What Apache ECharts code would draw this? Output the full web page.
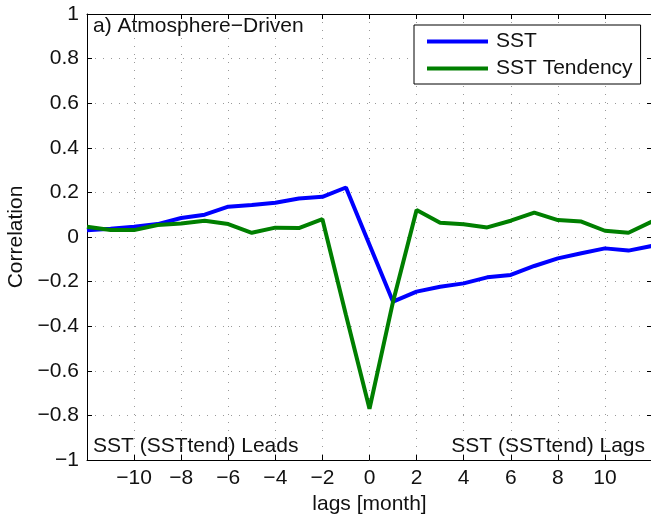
<!DOCTYPE html>
<html>
<head>
<meta charset="utf-8">
<script src="https://cdn.jsdelivr.net/npm/echarts@6/dist/echarts.min.js"></script>
<style>
  html, body { margin: 0; padding: 0; background: #fff; }
  #chart { width: 651px; height: 517px; }
</style>
</head>
<body>
<div id="chart"></div>
<script>
// Lag in months (negative: SST / SST tendency leads)
const lags = [-12, -11, -10, -9, -8, -7, -6, -5, -4, -3, -2, -1, 0, 1, 2, 3, 4, 5, 6, 7, 8, 9, 10, 11, 12];
// Lagged correlation with SST
const sst = [0.03, 0.037, 0.046, 0.058, 0.085, 0.10, 0.136, 0.143, 0.154, 0.173, 0.18, 0.222, -0.035, -0.29, -0.245, -0.223, -0.208, -0.181, -0.17, -0.13, -0.096, -0.073, -0.051, -0.061, -0.04];
// Lagged correlation with SST tendency
const sstTend = [0.046, 0.031, 0.031, 0.054, 0.061, 0.073, 0.058, 0.019, 0.042, 0.040, 0.080, -0.35, -0.77, -0.29, 0.121, 0.064, 0.057, 0.043, 0.073, 0.109, 0.076, 0.069, 0.028, 0.019, 0.069];
const seriesNames = ['SST', 'SST Tendency'];

const FONT = '"Liberation Sans", Arial, Helvetica, sans-serif';
const FS = 21;
const minus = v => String(v).replace('-', '\u2212');

const chart = echarts.init(document.getElementById('chart'), null, { renderer: 'canvas' });

const tickStyle = { show: true, inside: true, length: 5, lineStyle: { color: '#000', width: 1 } };
const gridLine = { show: true, lineStyle: { color: '#999', width: 1, type: [1, 7] } };
const frameLine = { show: true, onZero: false, lineStyle: { color: '#000', width: 1 } };

chart.setOption({
  animation: false,
  backgroundColor: '#fff',
  textStyle: { fontFamily: FONT },
  grid: { left: 87, right: -1, top: 14, bottom: 57, containLabel: false, outerBoundsMode: 'none' },
  legend: {
    data: seriesNames,
    orient: 'vertical',
    left: 414,
    top: 25,
    itemWidth: 61,
    itemHeight: 4,
    itemGap: 6,
    icon: 'rect',
    padding: [6, 8, 5, 13],
    borderColor: '#000',
    borderWidth: 1,
    backgroundColor: '#fff',
    textStyle: { fontFamily: FONT, fontSize: FS, color: '#111', padding: [0, 0, 0, 3] }
  },
  xAxis: [{
    type: 'value',
    min: -12, max: 12, interval: 2,
    name: 'lags [month]',
    nameLocation: 'middle',
    nameGap: 33,
    nameTextStyle: { fontFamily: FONT, fontSize: FS, color: '#111' },
    axisLine: frameLine,
    axisTick: tickStyle,
    axisLabel: {
      fontFamily: FONT, fontSize: FS, color: '#111', margin: 8,
      showMinLabel: false, showMaxLabel: false,
      formatter: minus
    },
    splitLine: gridLine
  }, {
    type: 'value', position: 'top',
    min: -12, max: 12, interval: 2,
    axisLine: frameLine,
    axisTick: tickStyle,
    axisLabel: { show: false },
    splitLine: { show: false }
  }],
  yAxis: [{
    type: 'value',
    min: -1, max: 1, interval: 0.2,
    name: 'Correlation',
    nameLocation: 'middle',
    nameGap: 59,
    nameRotate: 90,
    nameTextStyle: { fontFamily: FONT, fontSize: FS, color: '#111' },
    axisLine: frameLine,
    axisTick: tickStyle,
    axisLabel: {
      fontFamily: FONT, fontSize: FS, color: '#111', margin: 8,
      formatter: v => minus(Math.round(v * 10) / 10)
    },
    splitLine: gridLine
  }, {
    type: 'value', position: 'right',
    min: -1, max: 1, interval: 0.2,
    axisLine: frameLine,
    axisTick: tickStyle,
    axisLabel: { show: false },
    splitLine: { show: false }
  }],
  series: [{
    name: seriesNames[0],
    type: 'line',
    data: lags.map((l, i) => [l, sst[i]]),
    showSymbol: false,
    symbol: 'none',
    color: '#0000ff',
    lineStyle: { color: '#0000ff', width: 4 },
    z: 3
  }, {
    name: seriesNames[1],
    type: 'line',
    data: lags.map((l, i) => [l, sstTend[i]]),
    showSymbol: false,
    symbol: 'none',
    color: '#007f00',
    lineStyle: { color: '#007f00', width: 4 },
    z: 4
  }],
  graphic: [{
    type: 'text', left: 93, top: 16,
    style: { text: 'a) Atmosphere\u2212Driven', font: FS + 'px ' + FONT, fill: '#111' }
  }, {
    type: 'text', left: 93, top: 436,
    style: { text: 'SST (SSTtend) Leads', font: FS + 'px ' + FONT, fill: '#111' }
  }, {
    type: 'text', right: 6, top: 436,
    style: { text: 'SST (SSTtend) Lags', font: FS + 'px ' + FONT, fill: '#111' }
  }]
});
</script>
</body>
</html>
